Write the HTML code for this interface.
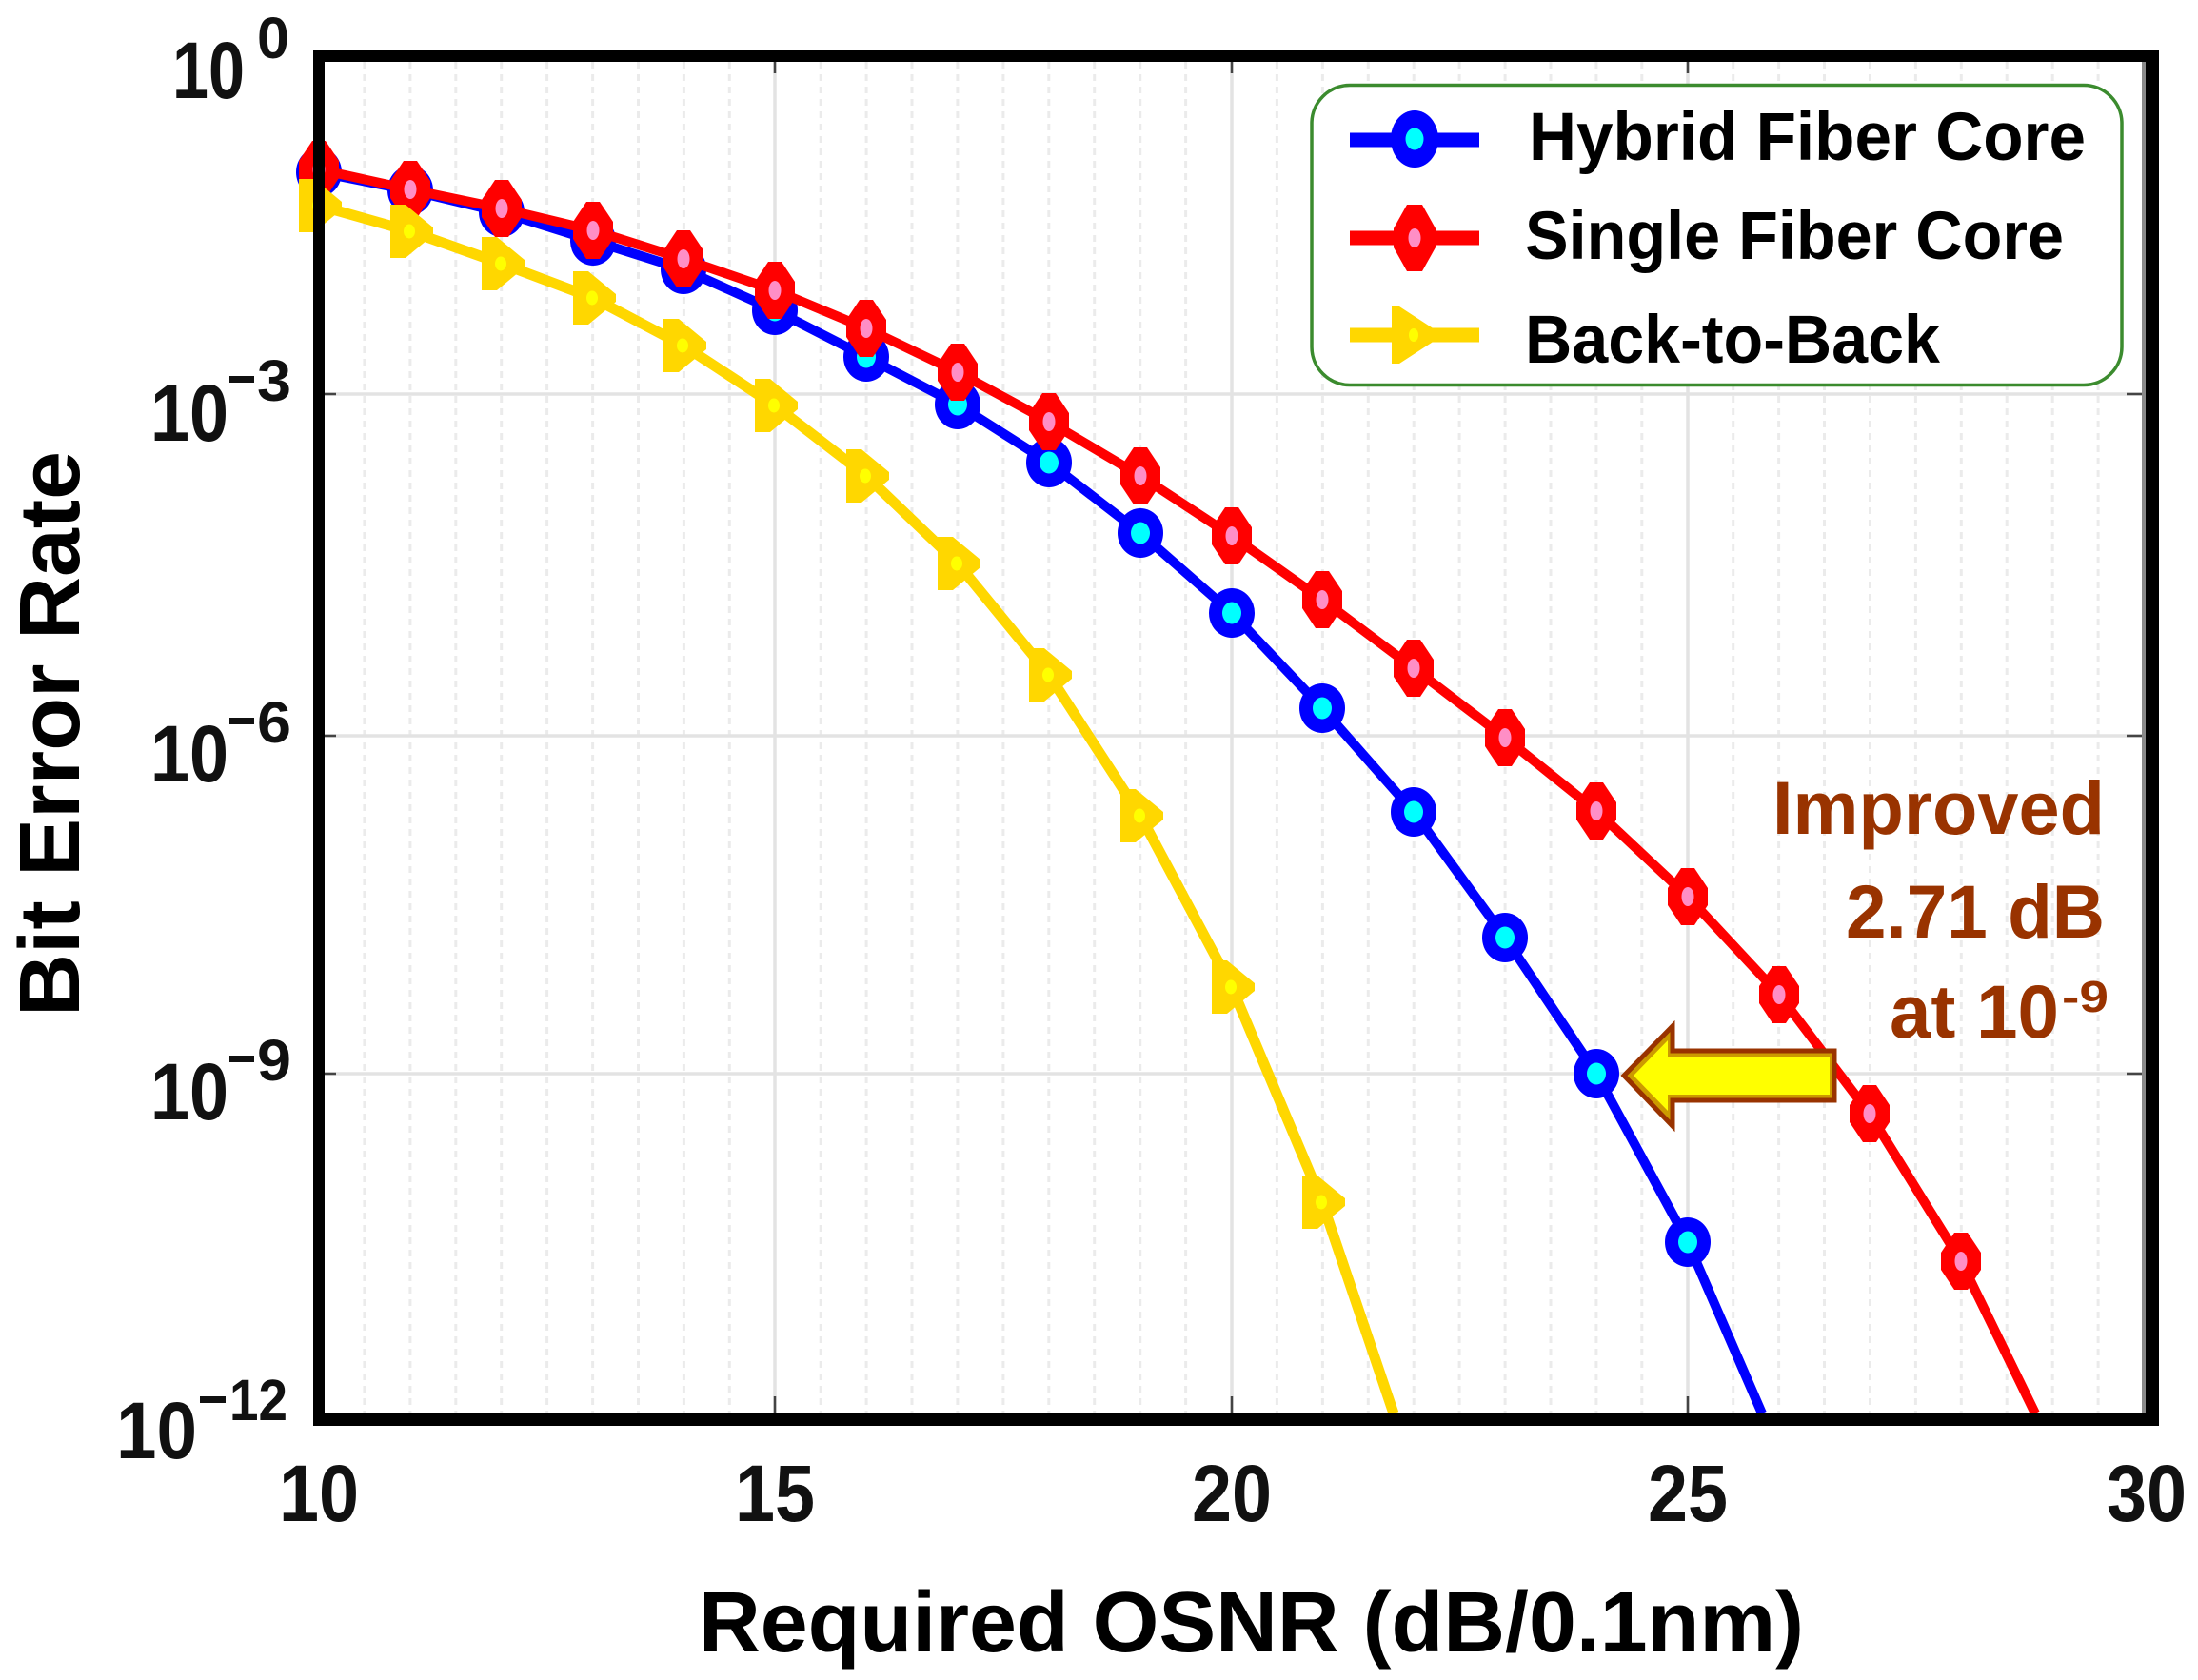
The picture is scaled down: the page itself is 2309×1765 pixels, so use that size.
<!DOCTYPE html>
<html>
<head>
<meta charset="utf-8">
<style>
html,body{margin:0;padding:0;background:#fff;}
body{width:2309px;height:1765px;overflow:hidden;}
svg{display:block;}
</style>
</head>
<body>
<svg width="2309" height="1765" viewBox="0 0 2309 1765" xmlns="http://www.w3.org/2000/svg">
<defs>
  <g id="mb"><ellipse rx="24" ry="26" fill="#0000ff"/><ellipse rx="10" ry="11.5" fill="#00ffff"/></g>
  <g id="mr"><polygon points="-7,-30 7,-30 21,-9 21,9 7,30 -7,30 -21,9 -21,-9" fill="#ff0000"/><ellipse rx="6.5" ry="10" fill="#ff8ec6"/></g>
  <g id="my"><polygon points="-21,-28 -5,-28 24,-4 24,4 -5,28 -21,28" fill="#ffd700"/><ellipse cx="-1" rx="6" ry="7.5" fill="#ffff00"/></g>
</defs>
<rect width="2309" height="1765" fill="#fff"/>

<!-- minor gridlines -->
<path fill="none" stroke="#ebebeb" stroke-width="3" stroke-dasharray="7 6"
 d="M382.9 65V1485M430.9 65V1485M478.8 65V1485M526.7 65V1485M574.6 65V1485M622.6 65V1485M670.5 65V1485M718.4 65V1485M766.3 65V1485
 M862.2 65V1485M910.1 65V1485M958 65V1485M1005.9 65V1485M1053.9 65V1485M1101.8 65V1485M1149.7 65V1485M1197.7 65V1485M1245.6 65V1485
 M1341.4 65V1485M1389.4 65V1485M1437.3 65V1485M1485.2 65V1485M1533.1 65V1485M1581.1 65V1485M1629 65V1485M1676.9 65V1485M1724.8 65V1485
 M1820.7 65V1485M1868.6 65V1485M1916.5 65V1485M1964.5 65V1485M2012.4 65V1485M2060.3 65V1485M2108.2 65V1485M2156.2 65V1485M2204.1 65V1485"/>
<!-- major gridlines -->
<path fill="none" stroke="#e3e3e3" stroke-width="3.5"
 d="M814 65V1485M1294 65V1485M1773 65V1485M341 414H2252M341 773H2252M341 1128H2252"/>
<!-- ticks -->
<path fill="none" stroke="#444" stroke-width="2.5"
 d="M814 1485V1467M1294 1485V1467M1773 1485V1467M814 59V77M1294 59V77M1773 59V77
 M335 414H353M335 773H353M335 1128H353M2252 414H2234M2252 773H2234M2252 1128H2234"/>

<!-- Hybrid (blue) -->
<polyline fill="none" stroke="#0000ff" stroke-width="10" stroke-linejoin="round"
 points="335,181 431,200 527,223 623,253 718,283 814,326 910,375 1006,425 1102,486 1198,560 1294,644 1389,744 1485,853 1581,985 1677,1128 1773,1305 1851,1485"/>
<g>
<use href="#mb" x="335" y="181"/><use href="#mb" x="431" y="200"/><use href="#mb" x="527" y="223"/><use href="#mb" x="623" y="253"/>
<use href="#mb" x="718" y="283"/><use href="#mb" x="814" y="326"/><use href="#mb" x="910" y="375"/><use href="#mb" x="1006" y="425"/>
<use href="#mb" x="1102" y="486"/><use href="#mb" x="1198" y="560"/><use href="#mb" x="1294" y="644"/><use href="#mb" x="1389" y="744"/>
<use href="#mb" x="1485" y="853"/><use href="#mb" x="1581" y="985"/><use href="#mb" x="1677" y="1128"/><use href="#mb" x="1773" y="1305"/>
</g>

<!-- Single (red) -->
<polyline fill="none" stroke="#ff0000" stroke-width="10" stroke-linejoin="round"
 points="335,178 431,199 527,219 623,242 718,272 814,305 910,345 1006,391 1102,443 1198,500 1294,563 1389,630 1485,702 1581,775 1677,852 1773,942 1869,1045 1964,1170 2060,1325 2138,1485"/>
<g>
<use href="#mr" x="335" y="178"/><use href="#mr" x="431" y="199"/><use href="#mr" x="527" y="219"/><use href="#mr" x="623" y="242"/>
<use href="#mr" x="718" y="272"/><use href="#mr" x="814" y="305"/><use href="#mr" x="910" y="345"/><use href="#mr" x="1006" y="391"/>
<use href="#mr" x="1102" y="443"/><use href="#mr" x="1198" y="500"/><use href="#mr" x="1294" y="563"/><use href="#mr" x="1389" y="630"/>
<use href="#mr" x="1485" y="702"/><use href="#mr" x="1581" y="775"/><use href="#mr" x="1677" y="852"/><use href="#mr" x="1773" y="942"/>
<use href="#mr" x="1869" y="1045"/><use href="#mr" x="1964" y="1170"/><use href="#mr" x="2060" y="1325"/>
</g>

<!-- Back-to-Back (yellow) -->
<polyline fill="none" stroke="#ffd700" stroke-width="11" stroke-linejoin="round"
 points="335,216 431,243 527,277 623,313 718,363 814,426 910,500 1006,592 1102,709 1198,857 1294,1037 1389,1263 1464,1485"/>
<g>
<use href="#my" x="335" y="216"/><use href="#my" x="431" y="243"/><use href="#my" x="527" y="277"/><use href="#my" x="623" y="313"/>
<use href="#my" x="718" y="363"/><use href="#my" x="814" y="426"/><use href="#my" x="910" y="500"/><use href="#my" x="1006" y="592"/>
<use href="#my" x="1102" y="709"/><use href="#my" x="1198" y="857"/><use href="#my" x="1294" y="1037"/><use href="#my" x="1389" y="1263"/>
</g>

<!-- cover area below axes -->
<rect x="0" y="1498" width="2309" height="267" fill="#fff"/>

<!-- border -->
<rect x="2250" y="65" width="4" height="1420" fill="#8a8a8a"/>
<rect x="329" y="53" width="12" height="1445" fill="#000"/>
<rect x="329" y="53" width="1939" height="12" fill="#000"/>
<rect x="2254" y="53" width="14" height="1445" fill="#000"/>
<rect x="329" y="1485" width="1939" height="13" fill="#000"/>

<!-- legend -->
<rect x="1378" y="89.5" width="851" height="315" rx="40" ry="40" fill="#fff" stroke="#3b8b2e" stroke-width="3.5"/>
<path d="M1418 147H1554" stroke="#0000ff" stroke-width="15"/>
<ellipse cx="1486" cy="146" rx="25" ry="30" fill="#0000ff"/>
<ellipse cx="1486" cy="146" rx="9.5" ry="11.5" fill="#00ffff"/>
<path d="M1418 250H1554" stroke="#ff0000" stroke-width="15"/>
<polygon points="1478,215 1494,215 1508,240 1508,260 1494,285 1478,285 1464,260 1464,240" fill="#ff0000"/>
<ellipse cx="1486" cy="250" rx="6.5" ry="10" fill="#ff8ec6"/>
<path d="M1418 352H1554" stroke="#ffd700" stroke-width="15"/>
<polygon points="1462,322 1470,322 1510,348 1510,356 1470,382 1462,382" fill="#ffd700"/>
<ellipse cx="1485" cy="352" rx="5" ry="7" fill="#ffff00"/>

<g font-family="'Liberation Sans', Arial, sans-serif" font-weight="bold" fill="#000">
  <text x="1606" y="168" font-size="71" textLength="585" lengthAdjust="spacingAndGlyphs">Hybrid Fiber Core</text>
  <text x="1602" y="272" font-size="71" textLength="566" lengthAdjust="spacingAndGlyphs">Single Fiber Core</text>
  <text x="1602" y="381" font-size="71" textLength="436" lengthAdjust="spacingAndGlyphs">Back-to-Back</text>
</g>

<!-- arrow -->
<polygon points="1706,1130 1757,1078 1757,1104 1927,1104 1927,1156 1757,1156 1757,1183" fill="#cc9a00" stroke="#993300" stroke-width="5" stroke-linejoin="miter"/>
<polygon points="1716,1130 1752,1093 1752,1110 1922,1110 1922,1150 1752,1150 1752,1167" fill="#ffff00"/>

<!-- annotation -->
<g font-family="'Liberation Sans', Arial, sans-serif" font-weight="bold" fill="#993300">
  <text x="1862" y="876" font-size="79" textLength="349" lengthAdjust="spacingAndGlyphs">Improved</text>
  <text x="1939" y="985" font-size="79" textLength="272" lengthAdjust="spacingAndGlyphs">2.71 dB</text>
  <text x="1985" y="1090" font-size="79" textLength="178" lengthAdjust="spacingAndGlyphs">at 10</text>
  <text x="2166" y="1063" font-size="46" textLength="49" lengthAdjust="spacingAndGlyphs">-9</text>
</g>

<!-- tick labels -->
<g font-family="'Liberation Sans', Arial, sans-serif" font-weight="bold" fill="#111">
  <text x="293" y="1598" font-size="84" textLength="84" lengthAdjust="spacingAndGlyphs">10</text>
  <text x="772" y="1598" font-size="84" textLength="84" lengthAdjust="spacingAndGlyphs">15</text>
  <text x="1252" y="1598" font-size="84" textLength="84" lengthAdjust="spacingAndGlyphs">20</text>
  <text x="1731" y="1598" font-size="84" textLength="84" lengthAdjust="spacingAndGlyphs">25</text>
  <text x="2213" y="1598" font-size="84" textLength="84" lengthAdjust="spacingAndGlyphs">30</text>

  <text x="181" y="103" font-size="84" textLength="76" lengthAdjust="spacingAndGlyphs">10</text>
  <text x="270" y="61" font-size="61" textLength="34" lengthAdjust="spacingAndGlyphs">0</text>

  <text x="158" y="463" font-size="84" textLength="82" lengthAdjust="spacingAndGlyphs">10</text>
  <rect x="241" y="395" width="26" height="7"/>
  <text x="270" y="421" font-size="61" textLength="36" lengthAdjust="spacingAndGlyphs">3</text>

  <text x="158" y="821" font-size="84" textLength="82" lengthAdjust="spacingAndGlyphs">10</text>
  <rect x="241" y="754" width="26" height="7"/>
  <text x="270" y="780" font-size="61" textLength="36" lengthAdjust="spacingAndGlyphs">6</text>

  <text x="158" y="1176" font-size="84" textLength="82" lengthAdjust="spacingAndGlyphs">10</text>
  <rect x="241" y="1109" width="26" height="7"/>
  <text x="270" y="1135" font-size="61" textLength="36" lengthAdjust="spacingAndGlyphs">9</text>

  <text x="122" y="1532" font-size="84" textLength="85" lengthAdjust="spacingAndGlyphs">10</text>
  <rect x="210" y="1467" width="27" height="7"/>
  <text x="241" y="1492" font-size="61" textLength="61" lengthAdjust="spacingAndGlyphs">12</text>
</g>

<!-- axis labels -->
<g font-family="'Liberation Sans', Arial, sans-serif" font-weight="bold" fill="#000">
  <text x="734" y="1735" font-size="90" textLength="1161" lengthAdjust="spacingAndGlyphs">Required OSNR (dB/0.1nm)</text>
  <text transform="translate(83,1068) rotate(-90)" x="0" y="0" font-size="90" textLength="594" lengthAdjust="spacingAndGlyphs">Bit Error Rate</text>
</g>
</svg>
</body>
</html>
